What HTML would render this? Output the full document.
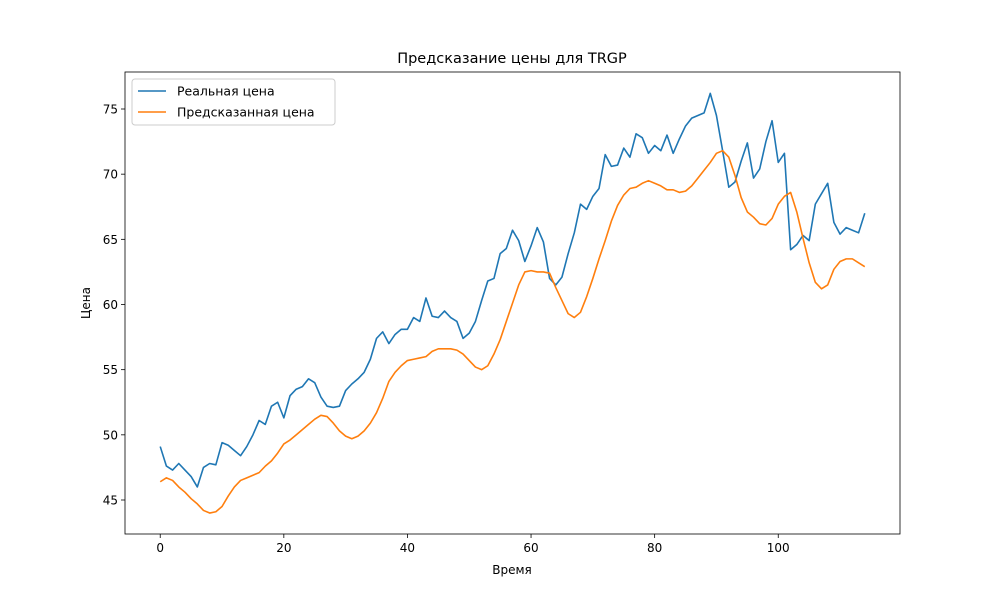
<!DOCTYPE html>
<html><head><meta charset="utf-8"><style>
body{margin:0;background:#fff;font-family:"Liberation Sans","DejaVu Sans",sans-serif;}
svg text{font-family:"DejaVu Sans","Liberation Sans",sans-serif;}
</style></head><body>
<svg id="chart" width="1000" height="600" xmlns="http://www.w3.org/2000/svg">
<rect width="1000" height="600" fill="#fff"/>
<g id="plot"></g>
</svg>
<script>
const realPrice=[49.1,47.6,47.3,47.8,47.3,46.8,46.0,47.5,47.8,47.7,49.4,49.2,48.8,48.4,49.1,50.0,51.1,50.8,52.2,52.5,51.3,53.0,53.5,53.7,54.3,54.0,52.9,52.2,52.1,52.2,53.4,53.9,54.3,54.8,55.8,57.4,57.9,57.0,57.7,58.1,58.1,59.0,58.7,60.5,59.1,59.0,59.5,59.0,58.7,57.4,57.8,58.7,60.3,61.8,62.0,63.9,64.3,65.7,64.9,63.3,64.5,65.9,64.8,62.0,61.5,62.1,63.9,65.5,67.7,67.3,68.3,68.9,71.5,70.6,70.7,72.0,71.3,73.1,72.8,71.6,72.2,71.8,73.0,71.6,72.7,73.7,74.3,74.5,74.7,76.2,74.5,71.8,69.0,69.4,71.0,72.4,69.7,70.4,72.5,74.1,70.9,71.6,64.2,64.6,65.3,64.9,67.7,68.5,69.3,66.3,65.4,65.9,65.7,65.5,67.0];
const predPrice=[46.4,46.7,46.5,46.0,45.6,45.1,44.7,44.2,44.0,44.1,44.5,45.3,46.0,46.5,46.7,46.9,47.1,47.6,48.0,48.6,49.3,49.6,50.0,50.4,50.8,51.2,51.5,51.4,50.9,50.3,49.9,49.7,49.9,50.3,50.9,51.7,52.8,54.1,54.8,55.3,55.7,55.8,55.9,56.0,56.4,56.6,56.6,56.6,56.5,56.2,55.7,55.2,55.0,55.3,56.2,57.3,58.7,60.1,61.5,62.5,62.6,62.5,62.5,62.4,61.3,60.3,59.3,59.0,59.4,60.6,62.0,63.5,64.9,66.4,67.6,68.4,68.9,69.0,69.3,69.5,69.3,69.1,68.8,68.8,68.6,68.7,69.1,69.7,70.3,70.9,71.6,71.8,71.3,69.9,68.2,67.1,66.7,66.2,66.1,66.6,67.7,68.3,68.6,67.1,65.1,63.2,61.7,61.2,61.5,62.7,63.3,63.5,63.5,63.2,62.9];
const xTicks=[0,20,40,60,80,100];
const yTicks=[45,50,55,60,65,70,75];

const NS="http://www.w3.org/2000/svg";
const g=document.getElementById('plot');
const L=125,R=900,T=72,B=534;
const xMin=-0.05*(realPrice.length-1), xMax=(realPrice.length-1)*1.05;
function xs(v){return L+(v-xMin)*(R-L)/(xMax-xMin);}
function ys(v){return 500-(v-45)*(500-109)/30;}
function el(tag,attrs,parent){const e=document.createElementNS(NS,tag);for(const k in attrs)e.setAttribute(k,attrs[k]);(parent||g).appendChild(e);return e;}

let t=el('text',{x:512,y:63,'text-anchor':'middle','font-size':'14.5',fill:'#000'});


t.textContent='Предсказание цены для TRGP';

xTicks.forEach(v=>{
  const x=xs(v);
  const tk=el('line',{x1:x,x2:x,y1:B,y2:B+4,stroke:'#000','stroke-width':0.8});
  
  
  const lb=el('text',{x:x,y:B+18,'text-anchor':'middle','font-size':'12',fill:'#000'});
  
  
  lb.textContent=v;
});
yTicks.forEach(v=>{
  const y=ys(v);
  const tk=el('line',{x1:L-4,x2:L,y1:y,y2:y,stroke:'#000','stroke-width':0.8});
  
  
  const lb=el('text',{x:L-7,y:y+4.5,'text-anchor':'end','font-size':'12',fill:'#000'});
  
  
  lb.textContent=v;
});

function series(data,color,name){
  const p=el('polyline',{points:data.map((v,i)=>xs(i)+','+ys(v)).join(' '),fill:'none',stroke:color,'stroke-width':1.6,'stroke-linejoin':'round'});
  
  
}
series(realPrice,'#1f77b4','real-price-line');
series(predPrice,'#ff7f0e','predicted-price-line');

const frame=el('rect',{x:L,y:T,width:R-L,height:B-T,fill:'none',stroke:'#000','stroke-width':0.8});



const xl=el('text',{x:512,y:574,'text-anchor':'middle','font-size':'12',fill:'#000'});


xl.textContent='Время';
const yl=el('text',{x:90,y:303,'text-anchor':'middle','font-size':'12',fill:'#000',transform:'rotate(-90 90 303)'});


yl.textContent='Цена';

const lg=el('g',{});


el('rect',{x:132,y:79,width:203,height:46,rx:3,fill:'#fff','fill-opacity':0.8,stroke:'#ccc','stroke-width':1},lg);
[['Реальная цена','#1f77b4',91],['Предсказанная цена','#ff7f0e',112]].forEach(([n,c,y],i)=>{
  const e=el('g',{},lg);
  
  
  el('line',{x1:138,x2:166,y1:y,y2:y,stroke:c,'stroke-width':1.6},e);
  const tx=el('text',{x:177,y:y+4.5,'font-size':'12.5',fill:'#000'},e);
  tx.textContent=n;
});
</script>
</body></html>
